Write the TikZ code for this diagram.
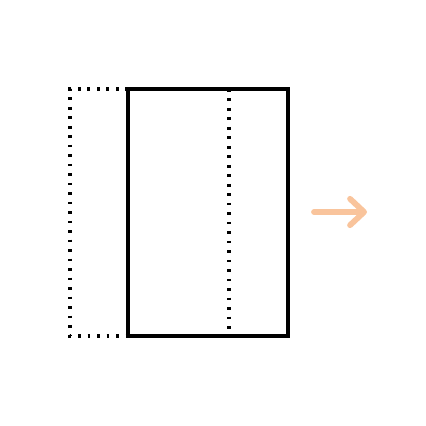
\documentclass[tikz,border=0pt]{standalone}
\usetikzlibrary{arrows.meta}
\definecolor{peach}{HTML}{F9C49C}
\tikzset{
	sheet/.style={line width=2.2pt},
	fold/.style={line width=1.8pt, dash pattern=on 1.5pt off 3.9pt},
	push/.style={peach, line width=3.3pt, line cap=round, -{Straight Barb[length=8pt, width=15pt, round]}}
}
\begin{document}
\begin{tikzpicture}[x=0.02cm, y=-0.02cm]
		\useasboundingbox (0, 0) rectangle (426, 426);

		\coordinate (tl) at (128, 89);
		\coordinate (br) at (288, 336);
		\coordinate (otl) at (70, 89);
		\coordinate (obl) at (70, 336);
		\coordinate (ft) at (229, 89);
		\coordinate (fb) at (229, 336);
		\coordinate (as) at (314, 212);
		\coordinate (ae) at (367, 212);

		\draw[fold] (tl) -- (otl) -- (obl) -- (tl |- obl);
		\draw[fold] (ft) -- (fb);
		\draw[sheet] (tl) rectangle (br);

		\draw[push] (as) -- (ae);

	\end{tikzpicture}
\end{document}
